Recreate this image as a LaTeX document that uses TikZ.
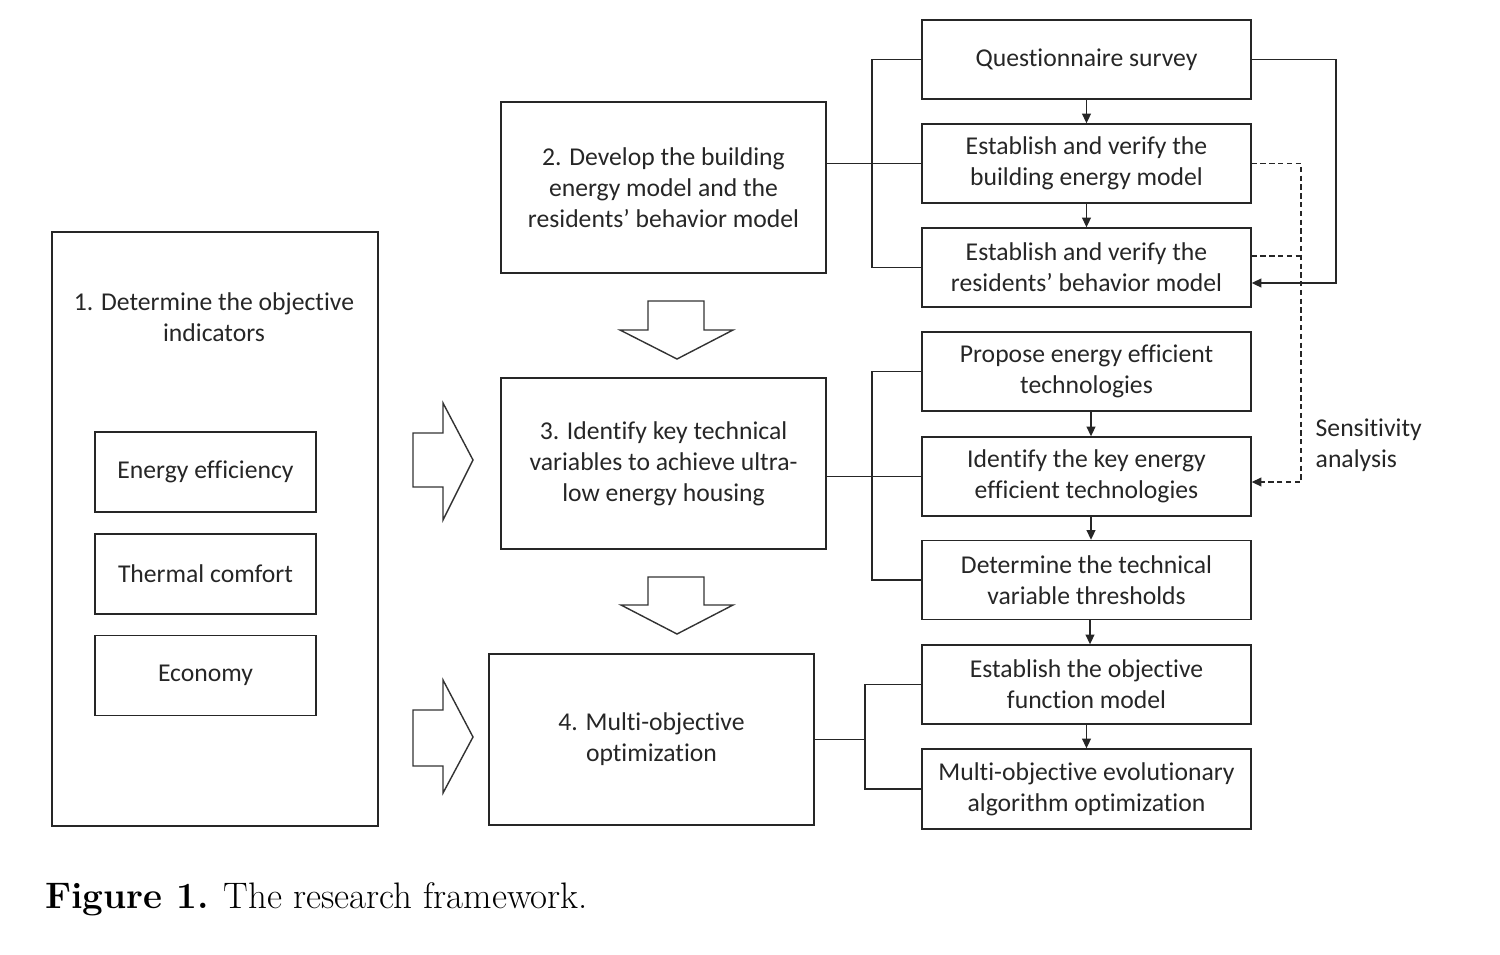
\documentclass[tikz,border=0pt]{standalone}
\usepackage{fontspec}
\setsansfont{Carlito}[Ligatures=NoCommon]
\usetikzlibrary{arrows.meta,calc}
\begin{document}
\begin{tikzpicture}[x=0.02cm,y=-0.02cm,
  bx/.style={draw=black!85, line width=0.8pt, align=center, inner sep=0pt,
    font=\sffamily\fontsize{14.6}{17.6}\selectfont, text=black!85},
  rbox/.style={bx, minimum width=6.58cm, minimum height=1.58cm},
  ibox/.style={bx, minimum width=4.42cm, minimum height=1.6cm},
  mbox/.style={bx, minimum width=6.5cm, minimum height=3.42cm},
  ln/.style={draw=black!85, line width=0.8pt},
  arr/.style={ln, -{Triangle[length=5.5pt,width=5pt]}},
  darr/.style={ln, dashed, dash pattern=on 3pt off 2pt, line width=0.7pt, -{Triangle[length=5.5pt,width=5pt]}},
  dln/.style={ln, dash pattern=on 3pt off 2pt, line width=0.7pt},
  hollow/.style={draw=black!80, line width=0.8pt, fill=white, line join=miter}
]
\useasboundingbox (0,0) rectangle (1500,954);

% left big box
\node[bx, minimum width=6.52cm, minimum height=11.88cm] (b1) at (215,529) {};
\node[bx, draw=none] (t1) at (214,317) {1. Determine the objective\\indicators};
\node[ibox] (e1) at (205.5,472) {Energy efficiency};
\node[ibox] (e2) at (205.5,574) {Thermal comfort};
\node[ibox] (e3) at (205.5,675.5) {Economy};

% middle boxes
\node[mbox] (b2) at (663.5,187.5) {2. Develop the building\\energy model and the\\residents’ behavior model};
\node[mbox] (b3) at (663.5,463.5) {3. Identify key technical\\variables to achieve ultra-\\low energy housing};
\node[mbox] (b4) at (651.5,739.5) {4. Multi-objective\\optimization};

% right column
\node[rbox] (bQ) at (1086.5,59.5) {Questionnaire survey};
\node[rbox] (bB) at (1086.5,163.5) {Establish and verify the\\building energy model};
\node[rbox] (bR) at (1086.5,267.5) {Establish and verify the\\residents’ behavior model};
\node[rbox] (bP) at (1086.5,371.5) {Propose energy efficient\\technologies};
\node[rbox] (bK) at (1086.5,476.5) {Identify the key energy\\efficient technologies};
\node[rbox] (bD) at (1086.5,580) {Determine the technical\\variable thresholds};
\node[rbox] (bO) at (1086.5,684.5) {Establish the objective\\function model};
\node[rbox, minimum height=1.6cm] (bM) at (1086.5,789) {Multi-objective evolutionary\\algorithm optimization};

\node[bx, draw=none, align=left, anchor=west] (sa) at (1315,445) {Sensitivity\\analysis};

% hollow arrows
\draw[hollow] (648,301) -- (704,301) -- (704,330) -- (733,330) -- (677,359) -- (620,330) -- (648,330) -- cycle;
\draw[hollow] (648,577) -- (704,577) -- (704,605) -- (733,605) -- (677,634) -- (621,605) -- (648,605) -- cycle;
\draw[hollow] (413,433) -- (443,433) -- (443,403) -- (473,460) -- (443,520) -- (443,487) -- (413,487) -- cycle;
\draw[hollow] (413,710) -- (443,710) -- (443,680) -- (473,737) -- (443,793) -- (443,766) -- (413,766) -- cycle;

% junction coordinates
\coordinate (j2) at (872,0);
\coordinate (j3) at (872,0);
\coordinate (j4) at (865,0);
\coordinate (lp) at (1336,0);
\coordinate (dp) at (1301,0);

% brackets
\draw[ln] (b2.east |- bB.west) -- (bB.west);
\draw[ln] (bQ.west) -- (bQ.west -| j2) -- (bR.west -| j2) -- (bR.west);
\draw[ln] (b3.east |- bK.west) -- (bK.west);
\draw[ln] (bP.west) -- (bP.west -| j3) -- (bD.west -| j3) -- (bD.west);
\draw[ln] (b4.east) -- (b4.east -| j4);
\draw[ln] (bO.west) -- (bO.west -| j4) -- (bM.west -| j4) -- (bM.west);

% vertical arrows
\draw[arr] (bQ.south) -- (bB.north);
\draw[arr] (bB.south) -- (bR.north);
\draw[arr] ([xshift=0.09cm]bP.south) -- ([xshift=0.09cm]bK.north);
\draw[arr] ([xshift=0.09cm]bK.south) -- ([xshift=0.09cm]bD.north);
\draw[arr] ([xshift=0.07cm]bD.south) -- ([xshift=0.07cm]bO.north);
\draw[arr] (bO.south) -- (bM.north);

% questionnaire loop
\draw[arr] (bQ.east) -- (bQ.east -| lp) -- ([yshift=-0.31cm]bR.east -| lp) -- ([yshift=-0.31cm]bR.east);

% sensitivity analysis
\draw[darr] (bB.east) -- (bB.east -| dp) -- ([yshift=-0.11cm]bK.east -| dp) -- ([yshift=-0.11cm]bK.east);
\draw[dln] ([yshift=0.23cm]bR.east) -- ([yshift=0.23cm]bR.east -| dp);

% caption
\node[anchor=base west, inner sep=0pt, font=\fontsize{21}{24}\selectfont] (cap) at (45,908) {\textbf{Figure 1.} The research framework.};
\end{tikzpicture}
\end{document}
